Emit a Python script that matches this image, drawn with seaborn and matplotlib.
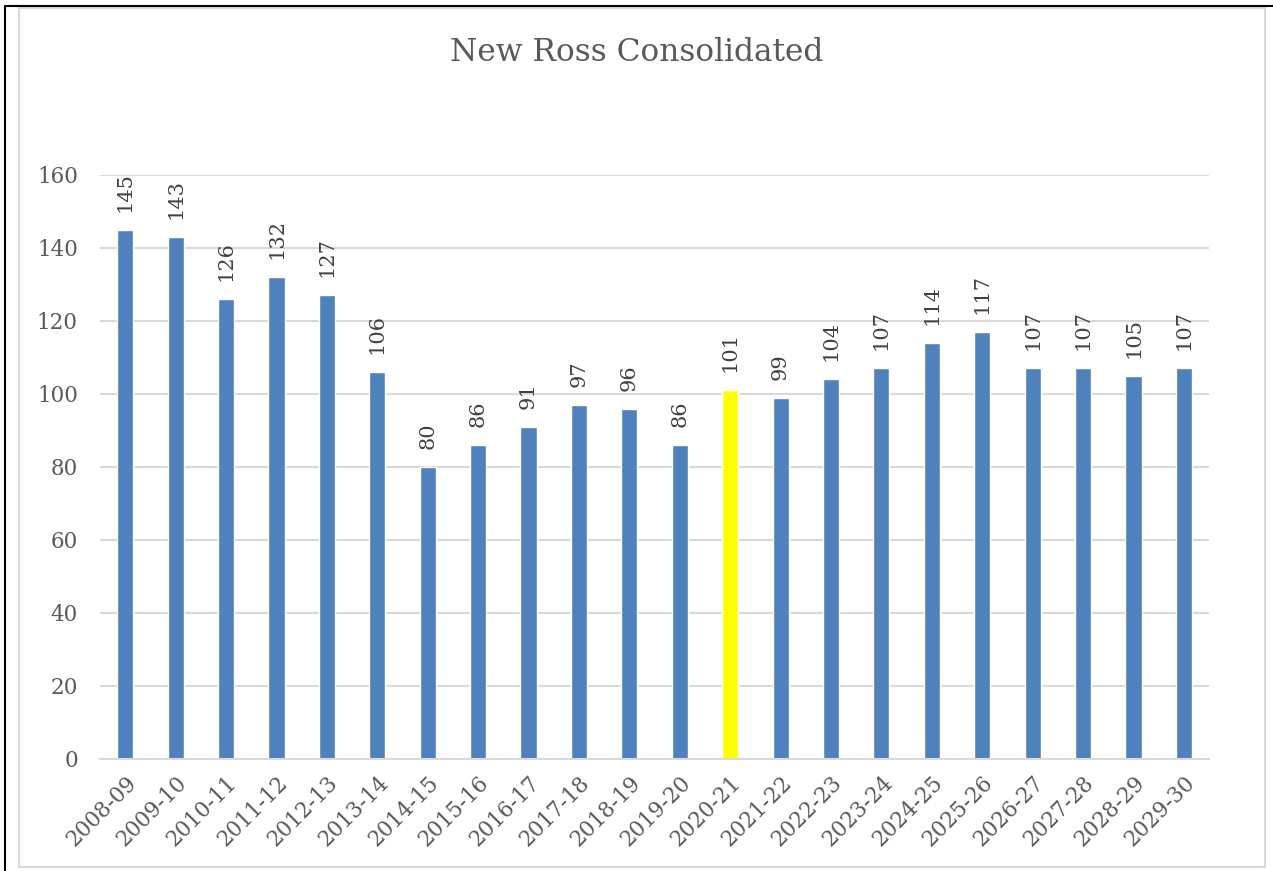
import matplotlib
matplotlib.use("Agg")
import matplotlib.pyplot as plt
import seaborn as sns
from matplotlib.lines import Line2D
from matplotlib.patches import Rectangle

# data
years = ["2008-09", "2009-10", "2010-11", "2011-12", "2012-13", "2013-14",
         "2014-15", "2015-16", "2016-17", "2017-18", "2018-19", "2019-20",
         "2020-21", "2021-22", "2022-23", "2023-24", "2024-25", "2025-26",
         "2026-27", "2027-28", "2028-29", "2029-30"]
values = [145, 143, 126, 132, 127, 106, 80, 86, 91, 97, 96, 86,
          101, 99, 104, 107, 114, 117, 107, 107, 105, 107]
highlight = "2020-21"

blue = "#4F81BD"
yellow = "#FFFF00"
text_grey = "#595959"
grid_grey = "#D9D9D9"

sns.set_theme(style="white")
plt.rcParams["font.family"] = ["DejaVu Serif"]

palette = {y: (yellow if y == highlight else blue) for y in years}

fig = plt.figure(figsize=(12.73, 8.71), dpi=100)
ax = fig.add_axes([0.0786, 0.1286, 0.8712, 0.6705])

sns.barplot(x=years, y=values, hue=years, palette=palette, legend=False,
            width=0.32, saturation=1, ax=ax)

for c in ax.containers:
    ax.bar_label(c, rotation=90, padding=13, fontsize=15, color="#404040")

ax.set_ylim(0, 160)
ax.set_yticks(range(0, 161, 20))
ax.yaxis.grid(True, color=grid_grey, linewidth=1.5)
ax.set_axisbelow(True)
for s in ["top", "right", "left"]:
    ax.spines[s].set_visible(False)
ax.spines["bottom"].set_color(grid_grey)
ax.spines["bottom"].set_linewidth(1.5)
ax.tick_params(axis="y", labelsize=15.5, labelcolor=text_grey, length=0, pad=16)
ax.tick_params(axis="x", labelsize=15.5, labelcolor=text_grey, length=0, pad=9)
plt.setp(ax.get_xticklabels(), rotation=45, ha="right", rotation_mode="anchor")
ax.set_xlabel("")
ax.set_ylabel("")

fig.text(0.5, 0.94, "New Ross Consolidated", ha="center", va="center",
         fontsize=22.5, color=text_grey)

# frame around the chart
W, H = 1273, 871
fig.add_artist(Rectangle((19 / W, 1 - 867 / H), (1265 - 19) / W, (867 - 8) / H,
                         transform=fig.transFigure, fill=False,
                         edgecolor=grid_grey, linewidth=1.5))
fig.add_artist(Line2D([5 / W, 1], [1 - 6 / H, 1 - 6 / H],
                      transform=fig.transFigure, color="black", linewidth=1.5))
fig.add_artist(Line2D([5 / W, 5 / W], [0, 1 - 6 / H],
                      transform=fig.transFigure, color="black", linewidth=1.5))

fig.savefig("out.png", dpi=100)
